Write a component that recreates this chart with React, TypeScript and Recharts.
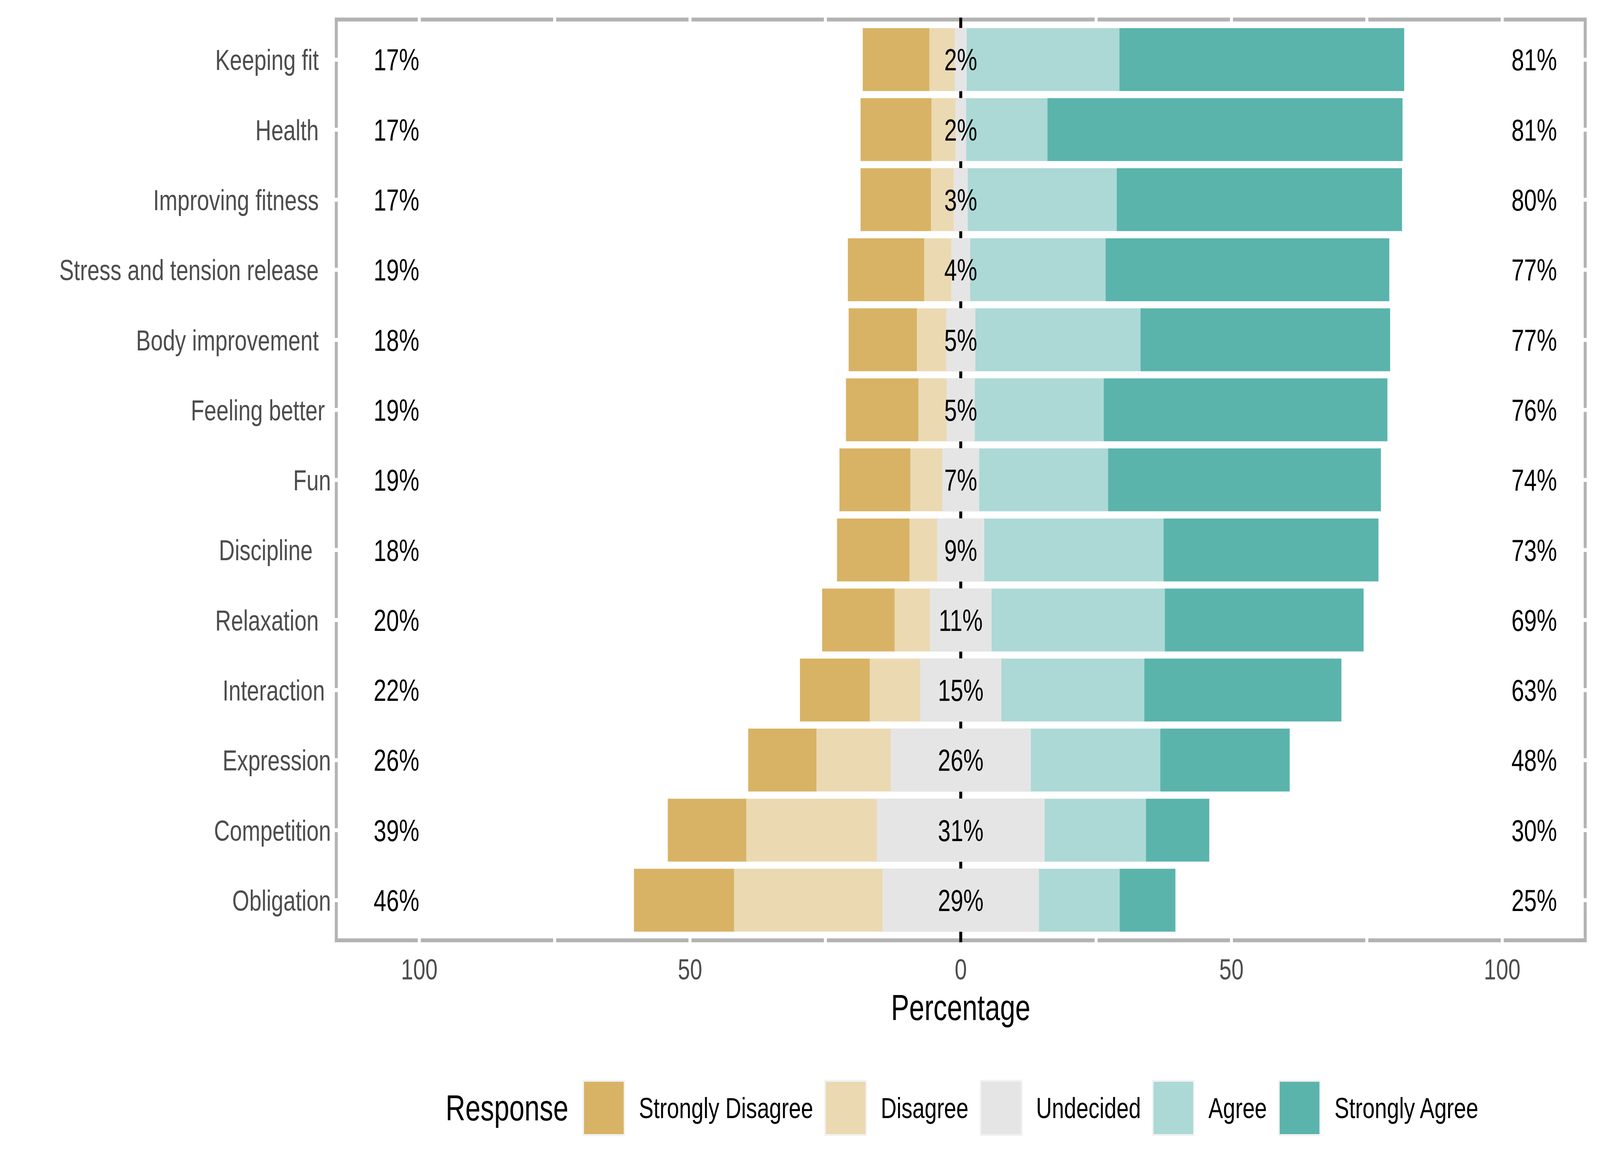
import React from 'react';
import {
  BarChart,
  Bar,
  XAxis,
  YAxis,
  CartesianGrid,
  ReferenceLine,
  ReferenceDot,
  Legend,
} from 'recharts';

// ---------- data ----------
const categories = [
  'Keeping fit  ',
  'Health  ',
  'Improving fitness  ',
  'Stress and tension release  ',
  'Body improvement  ',
  'Feeling better ',
  'Fun',
  'Discipline   ',
  'Relaxation  ',
  'Interaction ',
  'Expression',
  'Competition',
  'Obligation',
];
const stronglyDisagree = [12.3, 13.1, 13.0, 14.1, 12.6, 13.4, 13.1, 13.4, 13.4, 12.9, 12.6, 14.5, 18.5];
const disagree = [4.7, 4.4, 4.2, 5.0, 5.4, 5.2, 5.9, 5.1, 6.5, 9.3, 13.7, 24.1, 27.4];
const undecided = [2.2, 2.0, 2.6, 3.5, 5.4, 5.2, 6.8, 8.7, 11.4, 15.0, 25.9, 31.0, 28.9];
const agree = [28.2, 15.0, 27.5, 25.0, 30.5, 23.8, 23.8, 33.1, 32.0, 26.4, 23.9, 18.7, 14.9];
const stronglyAgree = [52.6, 65.6, 52.7, 52.4, 46.1, 52.4, 50.4, 39.7, 36.7, 36.4, 23.9, 11.7, 10.3];

const lowLabels = ['17%', '17%', '17%', '19%', '18%', '19%', '19%', '18%', '20%', '22%', '26%', '39%', '46%'];
const neutralLabels = ['2%', '2%', '3%', '4%', '5%', '5%', '7%', '9%', '11%', '15%', '26%', '31%', '29%'];
const highLabels = ['81%', '81%', '80%', '77%', '77%', '76%', '74%', '73%', '69%', '63%', '48%', '30%', '25%'];

const xTicks = [-100, -75, -50, -25, 0, 25, 50, 75, 100];
const xTickLabels = ['100', '', '50', '', '0', '', '50', '', '100'];

const responses = ['Strongly Disagree', 'Disagree', 'Undecided', 'Agree', 'Strongly Agree'];
const colors = ['#D8B365', '#EBD9B2', '#E5E5E5', '#ACD9D5', '#5AB4AC'];

// table for the library
const data = categories.map((name, i) => ({
  name,
  uNeg: -undecided[i] / 2,
  dNeg: -disagree[i],
  sdNeg: -stronglyDisagree[i],
  uPos: undecided[i] / 2,
  a: agree[i],
  sa: stronglyAgree[i],
}));

// ---------- layout / style ----------
const W = 5400;
const H = 3000;
const FONT = '"Liberation Sans", Arial, Helvetica, sans-serif';
const BORDER = '#B3B3B3';
const BORDER_W = 10;
const LOW_X = -100;
const HIGH_X = 100;

const YTick = (props: any) => (
  <text
    x={props.x}
    y={props.y}
    dy="0.36em"
    textAnchor="end"
    fontSize={74}
    fill="#4D4D4D"
    fontFamily={FONT}
    xmlSpace="preserve"
    style={{ whiteSpace: 'pre' }}
  >
    {props.payload.value}
  </text>
);

const XTick = (props: any) => {
  const idx = xTicks.indexOf(props.payload.value);
  const label = idx >= 0 ? xTickLabels[idx] : '';
  if (!label) return <g />;
  return (
    <text x={props.x} y={props.y} dy="0.71em" textAnchor="middle" fontSize={74} fill="#4D4D4D" fontFamily={FONT}>
      {label}
    </text>
  );
};

const XTitle = (props: any) => {
  const vb = props.viewBox || {};
  return (
    <text
      x={vb.x + vb.width / 2}
      y={vb.y + vb.height}
      textAnchor="middle"
      fontSize={92}
      fill="#000000"
      fontFamily={FONT}
    >
      Percentage
    </text>
  );
};

const makeTextShape = (text: string, anchor: 'start' | 'middle' | 'end', dx: number) => (p: any) => (
  <text
    x={p.cx}
    y={p.cy}
    dx={dx}
    dy="0.36em"
    textAnchor={anchor}
    fontSize={77}
    fill="#000000"
    fontFamily={FONT}
  >
    {text}
  </text>
);

const renderLegend = () => (
  <div
    style={{
      display: 'flex',
      alignItems: 'center',
      height: 144,
      paddingLeft: 1504,
      fontFamily: FONT,
      color: '#000',
      boxSizing: 'border-box',
    }}
  >
    <span style={{ fontSize: 92, marginRight: 48, whiteSpace: 'nowrap' }}>Response</span>
    {responses.map((r, i) => (
      <React.Fragment key={r}>
        <div
          style={{
            width: 144,
            height: 144,
            background: '#F2F2F2',
            padding: 5,
            boxSizing: 'border-box',
            marginRight: 46,
            flex: 'none',
          }}
        >
          <div style={{ width: '100%', height: '100%', background: colors[i] }} />
        </div>
        <span style={{ fontSize: 74, marginRight: i < responses.length - 1 ? 38 : 0, whiteSpace: 'nowrap' }}>{r}</span>
      </React.Fragment>
    ))}
  </div>
);

const MARGIN = { top: 45, right: 45, left: 0, bottom: 389 };
const Y_AXIS_W = 1130;
const X_AXIS_H = 199;

const borderH = (arg: any) => {
  const o = arg && arg.offset;
  const top = o ? o.top : MARGIN.top;
  const h = o ? o.height : H - MARGIN.top - MARGIN.bottom - X_AXIS_H;
  return [top + BORDER_W / 2, top + h - BORDER_W / 2];
};
const borderV = (arg: any) => {
  const o = arg && arg.offset;
  const left = o ? o.left : Y_AXIS_W;
  const w = o ? o.width : W - Y_AXIS_W - MARGIN.right;
  return [left + BORDER_W / 2, left + w - BORDER_W / 2];
};

export default function App() {
  // fit the 5400x3000 design into the actual window if the window is smaller
  const vw = typeof window !== 'undefined' && window.innerWidth > 0 ? window.innerWidth : W;
  const vh = typeof window !== 'undefined' && window.innerHeight > 0 ? window.innerHeight : H;
  const kx = vw < W ? vw / W : 1;
  const ky = vh < H ? vh / H : 1;
  return (
    <div
      style={{
        position: 'absolute',
        left: 0,
        top: 0,
        width: W * kx,
        height: H * ky,
        overflow: 'hidden',
        background: '#fff',
      }}
    >
      <div
        style={{
          width: W,
          height: H,
          transform: `scale(${kx}, ${ky})`,
          transformOrigin: '0 0',
          fontFamily: FONT,
          position: 'relative',
        }}
      >
        <BarChart
          width={W}
          height={H}
          data={data}
          layout="vertical"
          stackOffset="sign"
          margin={MARGIN}
          barSize={161}
        >
          <CartesianGrid
            stroke={BORDER}
            strokeWidth={BORDER_W}
            horizontalCoordinatesGenerator={borderH}
            verticalCoordinatesGenerator={borderV}
          />
          <CartesianGrid stroke="#FFFFFF" strokeWidth={BORDER_W} syncWithTicks />
          <XAxis
            type="number"
            domain={[-115.6, 115.6]}
            allowDataOverflow
            ticks={xTicks}
            interval={0}
            tick={<XTick />}
            tickLine={false}
            axisLine={false}
            tickSize={0}
            tickMargin={42}
            height={X_AXIS_H}
            label={<XTitle />}
          />
          <YAxis
            type="category"
            dataKey="name"
            width={Y_AXIS_W}
            interval={0}
            tick={<YTick />}
            tickLine={false}
            axisLine={false}
            tickSize={0}
            tickMargin={13}
            padding={{ top: 18, bottom: 18 }}
          />
          <ReferenceLine x={0} stroke="#000000" strokeWidth={10} zIndex={100} />
          <Bar dataKey="uNeg" stackId="s" fill={colors[2]} stroke={colors[2]} strokeWidth={1} isAnimationActive={false} name="Undecided" />
          <Bar dataKey="dNeg" stackId="s" fill={colors[1]} isAnimationActive={false} name="Disagree" />
          <Bar dataKey="sdNeg" stackId="s" fill={colors[0]} isAnimationActive={false} name="Strongly Disagree" />
          <Bar dataKey="uPos" stackId="s" fill={colors[2]} stroke={colors[2]} strokeWidth={1} isAnimationActive={false} name="Undecided" />
          <Bar dataKey="a" stackId="s" fill={colors[3]} isAnimationActive={false} name="Agree" />
          <Bar dataKey="sa" stackId="s" fill={colors[4]} isAnimationActive={false} name="Strongly Agree" />
          {categories.map((c, i) => (
            <ReferenceDot key={'low' + i} x={LOW_X} y={c} r={0} zIndex={1500} shape={makeTextShape(lowLabels[i], 'end', 0)} />
          ))}
          {categories.map((c, i) => (
            <ReferenceDot key={'mid' + i} x={0} y={c} r={0} zIndex={1500} shape={makeTextShape(neutralLabels[i], 'middle', 0)} />
          ))}
          {categories.map((c, i) => (
            <ReferenceDot key={'high' + i} x={HIGH_X} y={c} r={0} zIndex={1500} shape={makeTextShape(highLabels[i], 'start', 31)} />
          ))}
          <Legend
            layout="horizontal"
            verticalAlign="middle"
            align="center"
            content={renderLegend}
            wrapperStyle={{ left: 0, top: 2764, width: W, height: 144 }}
          />
        </BarChart>
      </div>
    </div>
  );
}
